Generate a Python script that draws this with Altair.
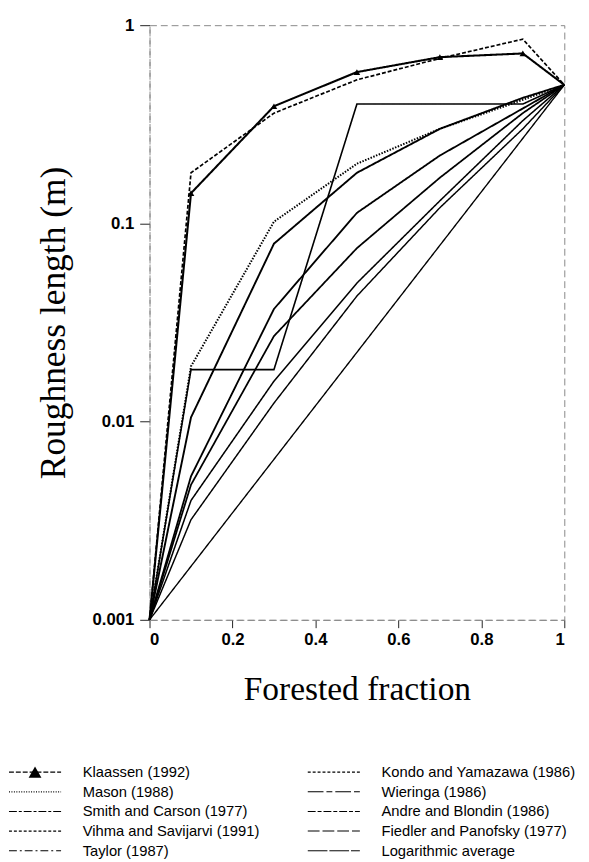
import altair as alt
import pandas as pd

# ---------------- data ----------------
fractions = [0.0, 0.1, 0.3, 0.5, 0.7, 0.9, 1.0]

series_names = [
    "Klaassen (1992)",
    "Mason (1988)",
    "Smith and Carson (1977)",
    "Vihma and Savijarvi (1991)",
    "Taylor (1987)",
    "Kondo and Yamazawa (1986)",
    "Wieringa (1986)",
    "Andre and Blondin (1986)",
    "Fiedler and Panofsky (1977)",
    "Logarithmic average",
]

klaassen = [0.001, 0.142, 0.39, 0.58, 0.69, 0.72, 0.5]
mason = [0.001, 0.019, 0.102, 0.20, 0.30, 0.42, 0.5]
smith_carson = [0.001, 0.0105, 0.079, 0.18, 0.30, 0.43, 0.5]
vihma = [0.001, 0.0053, 0.037, 0.113, 0.22, 0.38, 0.5]
taylor = [0.001, 0.0048, 0.027, 0.075, 0.17, 0.36, 0.5]
kondo = [0.001, 0.18, 0.36, 0.53, 0.68, 0.85, 0.5]
wieringa = [0.001, 0.0183, 0.0183, 0.40, 0.40, 0.40, 0.5]
andre = [0.001, 0.0040, 0.016, 0.050, 0.13, 0.33, 0.5]
fiedler = [0.001, 0.0032, 0.0124, 0.043, 0.12, 0.30, 0.5]
log_average = [0.001, None, None, None, None, None, 0.5]

series_values = [klaassen, mason, smith_carson, vihma, taylor,
                 kondo, wieringa, andre, fiedler, log_average]

marker_fractions = [0.1, 0.3, 0.5, 0.7, 0.9]

x_ticks = [0, 0.2, 0.4, 0.6, 0.8, 1]
y_ticks = [0.001, 0.01, 0.1, 1]

# ---------------- styles ----------------
# lines in the plot: nearly all printed solid, Kondo dashed, Mason dotted
plot_dash = [[1, 0], [1.5, 1.5], [1, 0], [1, 0], [1, 0],
             [4, 2], [1, 0], [1, 0], [1, 0], [1, 0]]
plot_width = [2.1, 1.4, 2.1, 2.1, 2.1, 2.6, 2.3, 2.1, 2.1, 2.1]
# legend samples: thin lines with small pattern gaps
leg_dash = [[5, 2], [1, 1.5], [8, 2, 3, 2], [3, 2], [8, 3, 2, 3],
            [3, 2], [16, 3, 6, 3], [8, 2, 4, 2], [12, 3], [20, 2]]
leg_width = [1.2, 1.0, 1.2, 1.1, 1.2, 1.2, 1.5, 1.2, 1.4, 1.5]

rows = []
for name, vals in zip(series_names, series_values):
    for f, v in zip(fractions, vals):
        if v is not None:
            rows.append({"series": name, "fraction": f, "z0": v})
df = pd.DataFrame(rows)
mk = df[(df.series == series_names[0]) & (df.fraction.isin(marker_fractions))]

dash_scale = alt.Scale(domain=series_names, range=plot_dash)
width_scale = alt.Scale(domain=series_names, range=plot_width)

x_enc = alt.X("fraction:Q",
              scale=alt.Scale(domain=[0, 1], nice=False, zero=False),
              axis=alt.Axis(values=x_ticks, format="~g", title="Forested fraction",
                            tickSize=8, labelPadding=4, titlePadding=26,
                            titleFontSize=34))
y_enc = alt.Y("z0:Q",
              scale=alt.Scale(type="log", domain=[0.001, 1], nice=False),
              axis=alt.Axis(values=y_ticks, format="~g", title="Roughness length (m)",
                            tickSize=10, labelPadding=6, titlePadding=20,
                            titleFontSize=36))

lines = alt.Chart(df).mark_line(color="black").encode(
    x=x_enc, y=y_enc,
    strokeDash=alt.StrokeDash("series:N", scale=dash_scale, legend=None),
    strokeWidth=alt.StrokeWidth("series:N", scale=width_scale, legend=None),
    detail="series:N",
)
markers = alt.Chart(mk).mark_point(shape="triangle-up", filled=True, size=45,
                                   color="black", opacity=1).encode(
    x="fraction:Q", y="z0:Q")
main = alt.layer(lines, markers)

# ---------------- legend (drawn below the plot) ----------------
col_x = [8, 312]
sym_w = 53
text_gap = 22
row_y0 = 778
row_dy = 20
leg = pd.DataFrame({"series": series_names,
                    "col": [i // 5 for i in range(10)],
                    "row": [i % 5 for i in range(10)]})
leg["x0"] = [col_x[c] for c in leg.col]
leg["x1"] = leg.x0 + sym_w
leg["xm"] = leg.x0 + sym_w / 2
leg["xt"] = leg.x1 + text_gap
leg["ly"] = row_y0 + leg.row * row_dy
leg["lname"] = leg.series

plot_left, plot_top, plot_w, plot_h = 151, 18, 422, 605
lx = alt.Scale(domain=[0, 589], range=[-plot_left, 589 - plot_left])
ly = alt.Scale(domain=[0, 862], range=[-plot_top, 862 - plot_top])

leg_rules = alt.Chart(leg).mark_rule(color="black").encode(
    x=alt.X("x0:Q", scale=lx, axis=None), x2="x1:Q",
    y=alt.Y("ly:Q", scale=ly, axis=None),
    strokeDash=alt.StrokeDash("lname:N", scale=alt.Scale(domain=series_names, range=leg_dash), legend=None),
    strokeWidth=alt.StrokeWidth("lname:N", scale=alt.Scale(domain=series_names, range=leg_width), legend=None),
)
leg_tri = alt.Chart(leg[leg.series == series_names[0]]).mark_point(
    shape="triangle-up", filled=True, size=170, color="black", opacity=1).encode(
    x=alt.X("xm:Q", scale=lx, axis=None), y=alt.Y("ly:Q", scale=ly, axis=None))
leg_text = alt.Chart(leg).mark_text(align="left", baseline="middle",
                                    font="Liberation Sans", fontSize=15,
                                    color="black").encode(
    x=alt.X("xt:Q", scale=lx, axis=None), y=alt.Y("ly:Q", scale=ly, axis=None),
    text="series:N")
legend_layer = alt.layer(leg_rules, leg_tri, leg_text)

chart = alt.layer(main, legend_layer).resolve_scale(
    x="independent", y="independent",
    strokeDash="independent", strokeWidth="independent",
).properties(
    width=plot_w, height=plot_h,
    padding={"left": 0, "top": 1, "right": 5, "bottom": 0},
).configure_view(
    stroke="#888", strokeDash=[7, 4], strokeWidth=1,
).configure_axis(
    grid=False, domainColor="#888", domainDash=[7, 4], domainWidth=1,
    tickColor="#222", tickWidth=1,
    labelFont="Liberation Sans", labelFontSize=17, labelFontWeight="bold",
    labelColor="black",
    titleFont="Liberation Serif", titleFontWeight="normal",
    titleColor="black",
)

chart.save("out.html", embed_options={"renderer": "svg", "actions": False})
